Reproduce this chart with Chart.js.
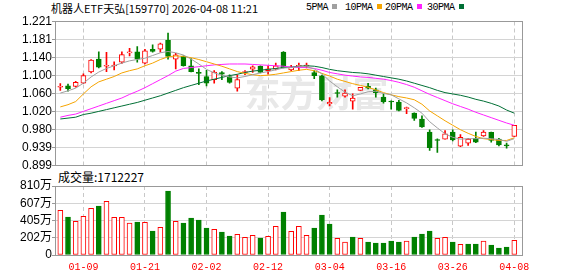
<!DOCTYPE html>
<html>
<head>
<meta charset="utf-8">
<script src="https://cdn.jsdelivr.net/npm/chart.js@4.4.1/dist/chart.umd.min.js"></script>
<style>
  body { margin: 0; background: #fff; width: 578px; height: 276px; overflow: hidden; position: relative; font-family: "Noto Sans CJK SC", sans-serif; }
  canvas { position: absolute; left: 0; }
  .t { position: absolute; font-size: 11px; line-height: 14px; color: #000; white-space: nowrap; }
  .lg { position: absolute; top: 2px; font-family: "Liberation Mono", monospace; font-size: 10px; letter-spacing: -0.5px; line-height: 12px; color: #000; white-space: nowrap; }
  .sw { display: inline-block; width: 5px; height: 5px; margin-left: 4px; vertical-align: 1px; }
</style>
</head>
<body>
<div class="t" id="title" style="left:51px;top:1px"></div>
<div id="legend"></div>
<div class="t" id="volLabel" style="left:58px;top:169px;font-size:12px;line-height:16px"></div>
<canvas id="price" width="578" height="180" style="top:0"></canvas>
<canvas id="vol" width="578" height="100" style="top:176px"></canvas>
<script>
// trading days shown (MM-DD, 2026)
const dates = [
  "01-06", "01-07", "01-08", "01-09", "01-12", "01-13", "01-14", "01-15", "01-16", "01-19",
  "01-20", "01-21", "01-22", "01-23", "01-26", "01-27", "01-28", "01-29", "01-30", "02-02",
  "02-03", "02-04", "02-05", "02-06", "02-09", "02-10", "02-11", "02-12", "02-13", "02-24",
  "02-25", "02-26", "02-27", "03-02", "03-03", "03-04", "03-05", "03-06", "03-09", "03-10",
  "03-11", "03-12", "03-13", "03-16", "03-17", "03-18", "03-19", "03-20", "03-23", "03-24",
  "03-25", "03-26", "03-27", "03-30", "03-31", "04-01", "04-02", "04-03", "04-07", "04-08",
];
const shownDates = ["01-09", "01-21", "02-02", "02-12", "03-04", "03-16", "03-26", "04-08"];

const openP = [
  1.074, 1.077, 1.076, 1.083, 1.108, 1.137, 1.121, 1.1215, 1.130, 1.151,
  1.153, 1.128, 1.159, 1.159, 1.179, 1.137, 1.143, 1.122, 1.106, 1.098,
  1.091, 1.107, 1.098, 1.072, 1.107, 1.1145, 1.1205, 1.111, 1.1145, 1.1525,
  1.113, 1.1205, 1.121, 1.107, 1.0995, 1.037, 1.062, 1.054, 1.043, 1.067,
  1.076, 1.068, 1.052, 1.0425, 1.041, 1.026, 1.016, 1.003, 0.974, 0.957,
  0.958, 0.974, 0.942, 0.949, 0.960, 0.965, 0.973, 0.958, 0.945, 0.964,
];
const highP = [
  1.082, 1.081, 1.087, 1.104, 1.136, 1.153, 1.152, 1.131, 1.153, 1.161,
  1.165, 1.159, 1.169, 1.173, 1.195, 1.150, 1.144, 1.138, 1.115, 1.112,
  1.1115, 1.109, 1.102, 1.102, 1.111, 1.122, 1.122, 1.122, 1.128, 1.154,
  1.123, 1.128, 1.128, 1.1115, 1.101, 1.051, 1.068, 1.068, 1.059, 1.074,
  1.083, 1.072, 1.059, 1.0437, 1.045, 1.0295, 1.017, 1.010, 0.979, 0.9587,
  0.977, 0.979, 0.968, 0.960, 0.974, 0.977, 0.974, 0.960, 0.949, 0.989,
];
const lowP = [
  1.067, 1.065, 1.074, 1.082, 1.106, 1.117, 1.109, 1.113, 1.127, 1.144,
  1.130, 1.126, 1.1525, 1.1525, 1.137, 1.115, 1.121, 1.108, 1.080, 1.077,
  1.083, 1.091, 1.083, 1.065, 1.102, 1.107, 1.106, 1.103, 1.113, 1.117,
  1.111, 1.111, 1.117, 1.093, 1.0435, 1.0325, 1.052, 1.052, 1.025, 1.067,
  1.070, 1.052, 1.0385, 1.025, 1.021, 1.0147, 1.000, 0.984, 0.933, 0.928,
  0.958, 0.954, 0.941, 0.944, 0.950, 0.964, 0.951, 0.943, 0.938, 0.964,
];
const closeP = [
  1.076, 1.071, 1.085, 1.100, 1.135, 1.119, 1.123, 1.1235, 1.147, 1.153,
  1.137, 1.1555, 1.154, 1.171, 1.143, 1.1465, 1.122, 1.109, 1.105, 1.083,
  1.108, 1.103, 1.085, 1.091, 1.1085, 1.1197, 1.107, 1.1152, 1.122, 1.118,
  1.1185, 1.122, 1.1235, 1.100, 1.046, 1.040, 1.060, 1.061, 1.050, 1.074,
  1.072, 1.062, 1.042, 1.041, 1.022, 1.028, 1.004, 0.985, 0.939, 0.955,
  0.970, 0.956, 0.962, 0.958, 0.951, 0.974, 0.955, 0.945, 0.943, 0.989,
];
const prevClose = 1.070;

const ma5 = [
  1.061, 1.066, 1.072, 1.083, 1.097, 1.108, 1.116, 1.122, 1.128, 1.133,
  1.136, 1.139, 1.145, 1.151, 1.154, 1.151, 1.146, 1.137, 1.126, 1.114,
  1.106, 1.101, 1.097, 1.095, 1.098, 1.102, 1.106, 1.109, 1.113, 1.117,
  1.118, 1.120, 1.120, 1.115, 1.104, 1.088, 1.075, 1.063, 1.055, 1.059,
  1.064, 1.065, 1.060, 1.057, 1.048, 1.039, 1.028, 1.016, 0.997, 0.983,
  0.970, 0.962, 0.958, 0.959, 0.959, 0.960, 0.959, 0.957, 0.953, 0.959,
];
const ma10 = [
  1.030, 1.035, 1.042, 1.059, 1.075, 1.086, 1.092, 1.098, 1.106, 1.111,
  1.115, 1.122, 1.128, 1.136, 1.142, 1.144, 1.143, 1.140, 1.136, 1.131,
  1.126, 1.121, 1.115, 1.109, 1.105, 1.102, 1.100, 1.101, 1.103, 1.106,
  1.109, 1.112, 1.114, 1.111, 1.105, 1.099, 1.092, 1.087, 1.082, 1.078,
  1.074, 1.068, 1.062, 1.057, 1.053, 1.050, 1.046, 1.036, 1.021, 1.010,
  0.999, 0.989, 0.979, 0.971, 0.964, 0.959, 0.957, 0.955, 0.955, 0.961,
];
const ma20 = [
  1.007, 1.011, 1.014, 1.020, 1.026, 1.032, 1.038, 1.044, 1.050, 1.058,
  1.065, 1.073, 1.082, 1.091, 1.100, 1.110, 1.116, 1.118, 1.120, 1.122,
  1.124, 1.125, 1.126, 1.126, 1.126, 1.125, 1.124, 1.123, 1.122, 1.121,
  1.119, 1.118, 1.118, 1.116, 1.112, 1.107, 1.104, 1.101, 1.099, 1.097,
  1.096, 1.094, 1.092, 1.089, 1.085, 1.080, 1.074, 1.066, 1.058, 1.051,
  1.044, 1.037, 1.031, 1.025, 1.018, 1.012, 1.006, 1.000, 0.994, 0.989,
];
const ma30 = [
  1.003, 1.005, 1.007, 1.013, 1.016, 1.020, 1.024, 1.028, 1.032, 1.036,
  1.040, 1.045, 1.050, 1.055, 1.061, 1.067, 1.073, 1.078, 1.083, 1.088,
  1.092, 1.096, 1.100, 1.103, 1.107, 1.110, 1.112, 1.114, 1.116, 1.118,
  1.119, 1.121, 1.122, 1.121, 1.118, 1.114, 1.111, 1.109, 1.107, 1.106,
  1.104, 1.101, 1.098, 1.095, 1.092, 1.088, 1.083, 1.078, 1.073, 1.067,
  1.062, 1.059, 1.056, 1.052, 1.047, 1.043, 1.038, 1.032, 1.023, 1.016,
];

// volume, 万股
const volume = [
  525, 446, 395, 454, 548, 575, 630, 442, 442, 376,
  387, 384, 282, 325, 751, 395, 376, 434, 411, 317,
  301, 270, 223, 243, 208, 231, 200, 219, 337, 505,
  278, 337, 231, 317, 470, 364, 196, 153, 211, 196,
  153, 141, 141, 164, 153, 164, 211, 247, 282, 196,
  208, 153, 125, 129, 129, 164, 117, 82, 94, 171,
];
const lastVolume = 1712227;

const priceTicks = [0.899, 0.93925, 0.9795, 1.01975, 1.06, 1.10025, 1.1405, 1.18075, 1.221];
const priceTickLabels = ["0.899", "0.939", "0.980", "1.020", "1.060", "1.100", "1.140", "1.181", "1.221"];
const volTicks = [0, 202.5, 405, 607.5, 810];
const volTickLabels = ["0", "202万", "405万", "607万", "810万"];

const maNames = ["5PMA", "10PMA", "20PMA", "30PMA"];
const maColors = ["#a0a0a0", "#f5a400", "#ff22ff", "#006f35"];

const UP = "#ff0000";
const DOWN = "#008000";

document.getElementById("title").textContent = "机器人ETF天弘[159770] 2026-04-08 11:21";
document.getElementById("volLabel").textContent = "成交量:" + lastVolume;
var legend = document.getElementById("legend");
[306, 345, 385, 427].forEach(function (x, k) {
  var d = document.createElement("div");
  d.className = "lg";
  d.style.left = x + "px";
  d.innerHTML = maNames[k] + '<span class="sw" style="background:' + maColors[k] + '"></span>';
  legend.appendChild(d);
});

// box around the plot + watermark
const al = (p) => Math.round(p - 0.5) + 0.5;
const framePlugin = {
  id: "frame",
  beforeDatasetsDraw(chart, args, opts) {
    const a = chart.chartArea;
    const c = chart.ctx;
    c.save();
    if (opts.watermark) {
      c.fillStyle = "#e8e8e8";
      c.font = 'bold 36px "Noto Sans CJK SC"';
      c.textAlign = "center";
      c.textBaseline = "middle";
      c.fillText("东方财富", a.left + (a.right - a.left) * 0.56, (a.top + a.bottom) / 2);
    }
    c.strokeStyle = "#999";
    c.lineWidth = 1;
    c.strokeRect(al(a.left), al(a.top), al(a.right) - al(a.left), al(a.bottom) - al(a.top));
    c.restore();
  },
};

function xAxis(showLabels) {
  return {
    type: "linear",
    min: -0.69,
    max: 60,
    offset: false,
    afterBuildTicks: (s) => {
      s.ticks = shownDates.map((d) => ({ value: dates.indexOf(d) }));
    },
    afterFit: (s) => {
      s.height = showLabels ? 21 : 0;
    },
    grid: { color: "#c8c8c8", drawTicks: false, offset: false },
    border: { display: false, dash: [4, 3] },
    ticks: {
      display: showLabels,
      autoSkip: false,
      maxRotation: 0,
      padding: 6,
      color: "#ff0000",
      font: { family: '"Liberation Mono"', size: 10 },
      callback: (v) => dates[v],
    },
  };
}

function yAxis(min, max, tickValues, tickLabels) {
  return {
    min: min,
    max: max,
    beginAtZero: false,
    afterBuildTicks: (s) => {
      s.ticks = tickValues.map((v) => ({ value: v }));
    },
    afterFit: (s) => {
      s.width = 55;
    },
    grid: { color: "#d4d4d4", tickLength: 3, tickColor: "#999" },
    border: { display: false },
    ticks: {
      autoSkip: false,
      padding: 0,
      color: "#000",
      font: { family: '"Liberation Sans", "Noto Sans CJK SC"', size: 12 },
      callback: (v, i) => tickLabels[i],
    },
  };
}

const isUp = closeP.map((c, i) => c >= openP[i]);
const volUp = closeP.map((c, i) => c >= (i ? closeP[i - 1] : prevClose));

const maSets = [ma5, ma10, ma20, ma30].map((arr, k) => ({
  type: "line",
  label: maNames[k],
  data: arr.map((v, i) => ({ x: i, y: v })),
  borderColor: maColors[k],
  borderWidth: 1,
  pointRadius: 0,
  tension: 0,
  order: 0,
}));

new Chart(document.getElementById("price"), {
  type: "bar",
  data: {
    datasets: maSets.concat([
      {
        label: "body",
        data: dates.map((d, i) => ({ x: i, y: [openP[i], closeP[i]] })),
        backgroundColor: isUp.map((u) => (u ? "#ffffff" : DOWN)),
        borderColor: isUp.map((u) => (u ? UP : DOWN)),
        borderWidth: 1,
        borderSkipped: false,
        barThickness: 5,
        minBarLength: 1,
        grouped: false,
        order: 1,
      },
      {
        label: "wick",
        data: dates.map((d, i) => ({ x: i, y: [lowP[i], highP[i]] })),
        backgroundColor: isUp.map((u) => (u ? UP : DOWN)),
        borderWidth: 0,
        barThickness: 1,
        grouped: false,
        order: 2,
      },
    ]),
  },
  options: {
    responsive: false,
    animation: false,
    events: [],
    layout: { padding: { left: 0, right: 56, top: 21.5, bottom: 14.5 } },
    scales: {
      x: xAxis(false),
      y: yAxis(0.899, 1.221, priceTicks, priceTickLabels),
    },
    plugins: {
      legend: { display: false },
      tooltip: { enabled: false },
      frame: { watermark: true },
    },
  },
  plugins: [framePlugin],
});

new Chart(document.getElementById("vol"), {
  type: "bar",
  data: {
    datasets: [
      {
        label: "成交量",
        data: volume.map((v, i) => ({ x: i, y: v })),
        backgroundColor: volUp.map((u) => (u ? "#ffffff" : DOWN)),
        borderColor: volUp.map((u) => (u ? UP : DOWN)),
        borderWidth: 1,
        borderSkipped: false,
        barThickness: 5,
        grouped: false,
      },
    ],
  },
  options: {
    responsive: false,
    animation: false,
    events: [],
    layout: { padding: { left: 0, right: 56, top: 10, bottom: 0 } },
    scales: {
      x: xAxis(true),
      y: yAxis(0, 810, volTicks, volTickLabels),
    },
    plugins: {
      legend: { display: false },
      tooltip: { enabled: false },
      frame: { watermark: false },
    },
  },
  plugins: [framePlugin],
});
</script>
</body>
</html>
